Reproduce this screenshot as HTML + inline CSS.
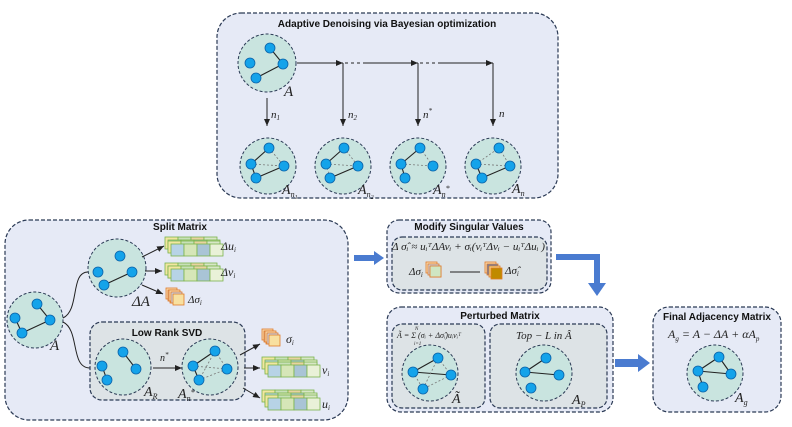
<!DOCTYPE html>
<html><head><meta charset="utf-8"><style>
html,body{margin:0;padding:0;background:#fff;}
svg{display:block;}
.t{font-family:"Liberation Sans",sans-serif;font-weight:bold;font-size:10px;fill:#111;}
.m{font-family:"Liberation Serif",serif;font-style:italic;fill:#222;}
.box{fill:#e6eaf6;stroke:#2b3a55;stroke-width:1.2;stroke-dasharray:4 2;}
.ibox{fill:#dde3e6;stroke:#2b3a55;stroke-width:1.2;stroke-dasharray:4 2;}
.c{fill:#c9e4df;stroke:#2b3a55;stroke-width:1;stroke-dasharray:3 2;}
.n{fill:#14a3ea;stroke:#0b62a8;stroke-width:0.8;}
.e{stroke:#222;stroke-width:1.1;}
.d{stroke:#777;stroke-width:0.8;stroke-dasharray:2 2;}
.ln{stroke:#222;stroke-width:1;fill:none;}
</style></head><body>
<svg width="792" height="427" viewBox="0 0 792 427" xmlns="http://www.w3.org/2000/svg">
<defs>
<marker id="ar" markerWidth="8" markerHeight="8" refX="7" refY="4" orient="auto"><path d="M0,1 L7,4 L0,7 z" fill="#222"/></marker>
<g id="stk">
<rect x="0" y="0" width="13" height="12" fill="#f2e6a0" stroke="#7bb34c" stroke-width="0.8"/>
<rect x="13" y="0" width="13" height="12" fill="#c8e0b8" stroke="#7bb34c" stroke-width="0.8"/>
<rect x="26" y="0" width="13" height="12" fill="#e8d3a0" stroke="#7bb34c" stroke-width="0.8"/>
<rect x="39" y="0" width="13" height="12" fill="#d7e6c6" stroke="#7bb34c" stroke-width="0.8"/>
<rect x="3" y="3" width="13" height="12" fill="#b7d3e6" stroke="#7bb34c" stroke-width="0.8"/>
<rect x="16" y="3" width="13" height="12" fill="#d6e6b8" stroke="#7bb34c" stroke-width="0.8"/>
<rect x="29" y="3" width="13" height="12" fill="#a9c4d6" stroke="#7bb34c" stroke-width="0.8"/>
<rect x="42" y="3" width="13" height="12" fill="#e9f1d8" stroke="#7bb34c" stroke-width="0.8"/>
</g>
<g id="sq">
<rect x="0" y="0" width="11" height="11" fill="#f7d9b0" stroke="#e07b2a" stroke-width="0.8"/>
<rect x="2" y="2" width="11" height="11" fill="#c6d3ea" stroke="#e07b2a" stroke-width="0.8"/>
<rect x="4" y="4" width="11" height="11" fill="#f8e0a0" stroke="#e07b2a" stroke-width="0.8"/>
</g>
</defs>

<!-- Top box -->
<rect class="box" x="217" y="13" width="341" height="185" rx="24"/>
<text class="t" x="387" y="27" text-anchor="middle">Adaptive Denoising via Bayesian optimization</text>
<circle class="c" cx="267" cy="63" r="29"/>
<line class="e" x1="270" y1="48" x2="283" y2="64"/><line class="e" x1="283" y1="64" x2="256" y2="78"/>
<circle class="n" cx="270" cy="48" r="5"/><circle class="n" cx="250" cy="63" r="5"/><circle class="n" cx="283" cy="64" r="5"/><circle class="n" cx="256" cy="78" r="5"/>
<text class="m" x="284" y="96" font-size="15">A</text>
<line class="ln" x1="297" y1="63" x2="343" y2="63" marker-end="url(#ar)"/>
<line class="ln" x1="345" y1="63" x2="366" y2="63" stroke-dasharray="3 3"/>
<line class="ln" x1="366" y1="63" x2="418" y2="63" marker-end="url(#ar)"/>
<line class="ln" x1="420" y1="63" x2="441" y2="63" stroke-dasharray="3 3"/>
<line class="ln" x1="441" y1="63" x2="493" y2="63" marker-end="url(#ar)"/>
<line class="ln" x1="267" y1="98" x2="267" y2="126" marker-end="url(#ar)"/>
<line class="ln" x1="343" y1="63" x2="343" y2="126" marker-end="url(#ar)"/>
<line class="ln" x1="418" y1="63" x2="418" y2="126" marker-end="url(#ar)"/>
<line class="ln" x1="493" y1="63" x2="493" y2="126" marker-end="url(#ar)"/>
<text class="m" x="271" y="118" font-size="11">n<tspan font-size="7" dy="2">1</tspan></text>
<text class="m" x="348" y="118" font-size="11">n<tspan font-size="7" dy="2">2</tspan></text>
<text class="m" x="423" y="118" font-size="11">n<tspan font-size="7" dy="-5">*</tspan></text>
<text class="m" x="499" y="117" font-size="11">n</text>
<!-- bottom circles -->
<g>
<circle class="c" cx="268" cy="166" r="28"/>
<line class="e" x1="251" y1="164" x2="269" y2="148"/><line class="d" x1="269" y1="148" x2="284" y2="166"/><line class="d" x1="251" y1="164" x2="284" y2="166"/><line class="e" x1="284" y1="166" x2="256" y2="178"/><line class="e" x1="251" y1="164" x2="256" y2="178"/>
<circle class="n" cx="269" cy="148" r="5"/><circle class="n" cx="251" cy="164" r="5"/><circle class="n" cx="284" cy="166" r="5"/><circle class="n" cx="256" cy="178" r="5"/>
<text class="m" x="282" y="194" font-size="14">A<tspan font-size="8" dy="3">n<tspan font-size="6" dy="2">1</tspan></tspan></text>
</g>
<g>
<circle class="c" cx="343" cy="166" r="28"/>
<line class="e" x1="326" y1="164" x2="344" y2="148"/><line class="d" x1="344" y1="148" x2="358" y2="166"/><line class="d" x1="326" y1="164" x2="358" y2="166"/><line class="e" x1="358" y1="166" x2="330" y2="178"/><line class="d" x1="326" y1="164" x2="330" y2="178"/>
<circle class="n" cx="344" cy="148" r="5"/><circle class="n" cx="326" cy="164" r="5"/><circle class="n" cx="358" cy="166" r="5"/><circle class="n" cx="330" cy="178" r="5"/>
<text class="m" x="358" y="194" font-size="14">A<tspan font-size="8" dy="3">n<tspan font-size="6" dy="2">2</tspan></tspan></text>
</g>
<g>
<circle class="c" cx="418" cy="166" r="28"/>
<line class="e" x1="401" y1="164" x2="420" y2="148"/><line class="d" x1="420" y1="148" x2="433" y2="166"/><line class="d" x1="401" y1="164" x2="433" y2="166"/><line class="e" x1="401" y1="164" x2="405" y2="178"/>
<circle class="n" cx="420" cy="148" r="5"/><circle class="n" cx="401" cy="164" r="5"/><circle class="n" cx="433" cy="166" r="5"/><circle class="n" cx="405" cy="178" r="5"/>
<text class="m" x="433" y="194" font-size="14">A<tspan font-size="8" dy="3">n<tspan dy="-6">*</tspan></tspan></text>
</g>
<g>
<circle class="c" cx="493" cy="166" r="28"/>
<line class="d" x1="476" y1="164" x2="499" y2="148"/><line class="d" x1="499" y1="148" x2="510" y2="166"/><line class="d" x1="476" y1="164" x2="510" y2="166"/><line class="e" x1="510" y1="166" x2="482" y2="178" stroke="#777"/><line class="e" x1="476" y1="164" x2="482" y2="178"/>
<circle class="n" cx="499" cy="148" r="5"/><circle class="n" cx="476" cy="164" r="5"/><circle class="n" cx="510" cy="166" r="5"/><circle class="n" cx="482" cy="178" r="5"/>
<text class="m" x="512" y="193" font-size="14">A<tspan font-size="8" dy="3">n</tspan></text>
</g>

<!-- Left box -->
<rect class="box" x="5" y="220" width="343" height="200" rx="24"/>
<text class="t" x="180" y="230" text-anchor="middle">Split Matrix</text>
<circle class="c" cx="35" cy="320" r="28"/>
<line class="e" x1="37" y1="304" x2="50" y2="320"/><line class="e" x1="50" y1="320" x2="22" y2="333"/><line class="e" x1="15" y1="318" x2="22" y2="333"/>
<circle class="n" cx="37" cy="304" r="5"/><circle class="n" cx="15" cy="318" r="5"/><circle class="n" cx="50" cy="320" r="5"/><circle class="n" cx="22" cy="333" r="5"/>
<text class="m" x="50" y="350" font-size="15">A</text>
<path class="ln" d="M63,318 C80,310 70,272 88,272" stroke="#666"/>
<path class="ln" d="M63,322 C80,330 70,368 90,368" stroke="#666"/>
<circle class="c" cx="117" cy="268" r="29"/>
<line class="e" x1="104" y1="285" x2="132" y2="272"/>
<circle class="n" cx="120" cy="256" r="5"/><circle class="n" cx="98" cy="272" r="5"/><circle class="n" cx="132" cy="272" r="5"/><circle class="n" cx="104" cy="285" r="5"/>
<text class="m" x="132" y="306" font-size="15">ΔA</text>
<line class="ln" x1="142" y1="257" x2="164" y2="246" marker-end="url(#ar)"/>
<line class="ln" x1="145" y1="271" x2="162" y2="271" marker-end="url(#ar)"/>
<line class="ln" x1="142" y1="285" x2="163" y2="294" marker-end="url(#ar)"/>
<use href="#stk" x="165" y="237"/><use href="#stk" x="168" y="241"/>
<text class="m" x="221" y="250" font-size="12">Δu<tspan font-size="7" dy="2">i</tspan></text>
<use href="#stk" x="165" y="263"/><use href="#stk" x="168" y="266"/>
<text class="m" x="221" y="276" font-size="12">Δv<tspan font-size="7" dy="2">i</tspan></text>
<use href="#sq" x="166" y="288"/><use href="#sq" x="169" y="290"/>
<text class="m" x="188" y="303" font-size="11">Δσ<tspan font-size="7" dy="2">i</tspan></text>

<rect class="ibox" x="90" y="322" width="155" height="78" rx="12"/>
<text class="t" x="167" y="336" text-anchor="middle">Low Rank SVD</text>
<circle class="c" cx="123" cy="367" r="28"/>
<line class="e" x1="123" y1="352" x2="136" y2="369"/><line class="e" x1="102" y1="366" x2="107" y2="380"/>
<circle class="n" cx="123" cy="352" r="5"/><circle class="n" cx="102" cy="366" r="5"/><circle class="n" cx="136" cy="369" r="5"/><circle class="n" cx="107" cy="380" r="5"/>
<text class="m" x="144" y="396" font-size="14">A<tspan font-size="8" dy="3">R</tspan></text>
<line class="ln" x1="153" y1="368" x2="182" y2="368" marker-end="url(#ar)"/>
<text class="m" x="160" y="361" font-size="10">n<tspan font-size="7" dy="-4">*</tspan></text>
<circle class="c" cx="210" cy="367" r="28"/>
<line class="d" x1="215" y1="351" x2="227" y2="369"/><line class="e" x1="193" y1="366" x2="215" y2="351"/><line class="d" x1="193" y1="366" x2="227" y2="369"/><line class="d" x1="199" y1="380" x2="227" y2="369"/><line class="e" x1="193" y1="366" x2="199" y2="380"/><line class="d" x1="215" y1="351" x2="199" y2="380"/>
<circle class="n" cx="215" cy="351" r="5"/><circle class="n" cx="193" cy="366" r="5"/><circle class="n" cx="227" cy="369" r="5"/><circle class="n" cx="199" cy="380" r="5"/>
<text class="m" x="178" y="398" font-size="14">A<tspan font-size="8" dy="3">n<tspan dy="-6">*</tspan></tspan></text>
<line class="ln" x1="240" y1="355" x2="260" y2="344" marker-end="url(#ar)"/>
<line class="ln" x1="244" y1="368" x2="260" y2="368" marker-end="url(#ar)"/>
<line class="ln" x1="243" y1="388" x2="260" y2="398" marker-end="url(#ar)"/>
<use href="#sq" x="262" y="329"/><use href="#sq" x="265" y="331"/>
<text class="m" x="286" y="343" font-size="12">σ<tspan font-size="7" dy="2">i</tspan></text>
<use href="#stk" x="262" y="357"/><use href="#stk" x="265" y="362"/>
<text class="m" x="322" y="374" font-size="12">v<tspan font-size="7" dy="2">i</tspan></text>
<use href="#stk" x="262" y="390"/><use href="#stk" x="265" y="395"/>
<text class="m" x="322" y="408" font-size="12">u<tspan font-size="7" dy="2">i</tspan></text>

<!-- blue arrows -->
<path d="M354,255 L374,255 L374,251 L384,258 L374,265 L374,261 L354,261 z" fill="#4a7bd0"/>
<path d="M556,254 L600,254 L600,283 L606,283 L597,296 L588,283 L594,283 L594,260 L556,260 z" fill="#4a7bd0"/>
<path d="M615,359 L638,359 L638,354 L650,363 L638,372 L638,367 L615,367 z" fill="#4a7bd0"/>

<!-- Modify -->
<rect class="box" x="387" y="220" width="164" height="73" rx="12"/>
<text class="t" x="469" y="230" text-anchor="middle">Modify Singular Values</text>
<rect class="ibox" x="392" y="237" width="155" height="53" rx="10"/>
<text class="m" x="392" y="250" font-size="10.5" textLength="153" lengthAdjust="spacingAndGlyphs">Δ σ̂ᵢ ≈ uᵢᵀΔAvᵢ + σᵢ(vᵢᵀΔvᵢ − uᵢᵀΔuᵢ )</text>
<text class="m" x="409" y="275" font-size="11">Δσ<tspan font-size="7" dy="2">i</tspan></text>
<use href="#sq" x="426" y="262"/><rect x="430" y="266" width="11" height="11" fill="#cfe6c2" stroke="#e07b2a" stroke-width="0.8"/>
<line class="ln" x1="450" y1="272" x2="480" y2="272"/>
<rect x="485" y="262" width="11" height="11" fill="#f7d9b0" stroke="#e07b2a" stroke-width="0.8"/>
<rect x="487" y="264" width="11" height="11" fill="#6a7fa8" stroke="#e07b2a" stroke-width="0.8"/>
<rect x="489" y="266" width="11" height="11" fill="#f0d080" stroke="#e07b2a" stroke-width="0.8"/>
<rect x="491" y="268" width="11" height="11" fill="#c08a00" stroke="#e07b2a" stroke-width="0.8"/>
<text class="m" x="505" y="274" font-size="11">Δσ̂<tspan font-size="7" dy="2">i</tspan></text>

<!-- Perturbed -->
<rect class="box" x="387" y="307" width="226" height="105" rx="14"/>
<text class="t" x="500" y="319" text-anchor="middle">Perturbed Matrix</text>
<rect class="ibox" x="392" y="324" width="93" height="84" rx="10"/>
<rect class="ibox" x="490" y="324" width="117" height="84" rx="10"/>
<text class="m" x="397" y="338" font-size="8" fill="#555">Ã = Σ (σᵢ + Δσ̂ᵢ)uᵢvᵢᵀ</text>
<text class="m" x="414" y="345" font-size="5" fill="#555">i=1</text>
<text class="m" x="415" y="330" font-size="5" fill="#555">N</text>
<circle class="c" cx="430" cy="373" r="28"/>
<line class="e" x1="413" y1="372" x2="438" y2="358"/><line class="e" x1="413" y1="372" x2="451" y2="375"/><line class="d" x1="438" y1="358" x2="451" y2="375"/><line class="d" x1="413" y1="372" x2="423" y2="389"/><line class="d" x1="451" y1="375" x2="423" y2="389"/><line class="d" x1="438" y1="358" x2="423" y2="389"/>
<circle class="n" cx="438" cy="358" r="5"/><circle class="n" cx="413" cy="372" r="5"/><circle class="n" cx="451" cy="375" r="5"/><circle class="n" cx="423" cy="389" r="5"/>
<text class="m" x="452" y="403" font-size="14">Ã</text>
<text class="m" x="516" y="339" font-size="11">Top − L  in  Â</text>
<circle class="c" cx="544" cy="373" r="28"/>
<line class="e" x1="525" y1="372" x2="546" y2="358"/><line class="e" x1="525" y1="372" x2="559" y2="375"/>
<circle class="n" cx="546" cy="358" r="5"/><circle class="n" cx="525" cy="372" r="5"/><circle class="n" cx="559" cy="375" r="5"/><circle class="n" cx="531" cy="388" r="5"/>
<text class="m" x="572" y="404" font-size="14">A<tspan font-size="8" dy="3">P</tspan></text>

<!-- Final -->
<rect class="box" x="653" y="307" width="128" height="105" rx="16"/>
<text class="t" x="717" y="320" text-anchor="middle">Final Adjacency Matrix</text>
<text class="m" x="668" y="338" font-size="12">A<tspan font-size="7" dy="3">g</tspan><tspan dy="-3"> = A − ΔA + αA</tspan><tspan font-size="7" dy="3">p</tspan></text>
<circle class="c" cx="715" cy="373" r="28"/>
<line class="e" x1="698" y1="371" x2="719" y2="357"/><line class="e" x1="719" y1="357" x2="731" y2="374"/><line class="e" x1="698" y1="371" x2="731" y2="374" stroke="#888"/><line class="e" x1="698" y1="371" x2="703" y2="387"/>
<circle class="n" cx="719" cy="357" r="5"/><circle class="n" cx="698" cy="371" r="5"/><circle class="n" cx="731" cy="374" r="5"/><circle class="n" cx="703" cy="387" r="5"/>
<text class="m" x="735" y="402" font-size="14">A<tspan font-size="8" dy="3">g</tspan></text>
</svg>
</body></html>
